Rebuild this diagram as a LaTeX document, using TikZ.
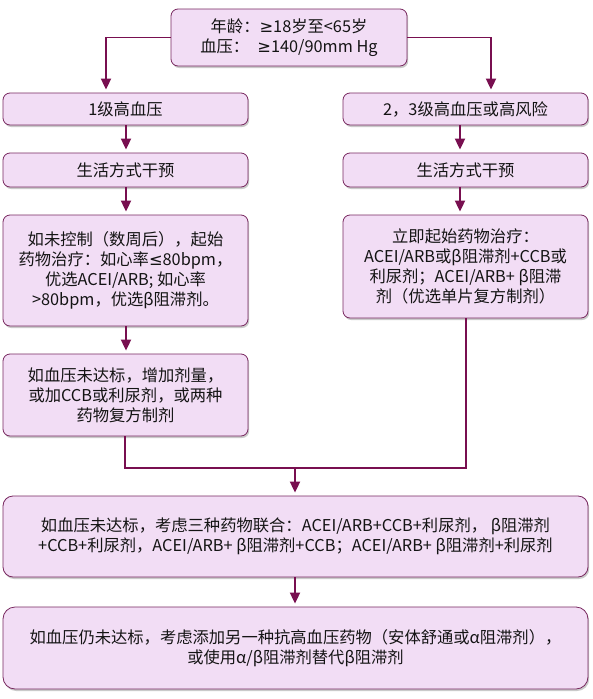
\documentclass[tikz,border=0pt]{standalone}
\usepackage{fontspec}
\setmainfont{Noto Sans CJK SC}
\newfontfamily\symf{DejaVu Sans}
\newcommand{\myge}{{\symf ≥}}
\newcommand{\myle}{{\symf ≤}}
\usetikzlibrary{arrows.meta,shadows}
\definecolor{boxfill}{RGB}{242,221,245}
\definecolor{boxline}{RGB}{120,40,95}
\definecolor{conn}{RGB}{120,15,80}
\definecolor{txt}{RGB}{20,20,20}
\tikzset{
  flowbox/.style={draw=boxline, line width=0.8pt, fill=boxfill, rounded corners=7pt,
    align=center, inner sep=2pt, text=txt, font=\fontsize{16.3}{20}\selectfont,
    drop shadow={shadow xshift=1.2pt, shadow yshift=-2pt, opacity=0.35, fill=black!60}},
  conline/.style={draw=conn, line width=1.8pt},
  conarrow/.style={conline, -{Triangle[length=11pt,width=10pt]}, shorten >=3pt}
}
\begin{document}
\begin{tikzpicture}[x=1pt,y=-1pt]
\useasboundingbox (0,0) rectangle (592,699);
\node[flowbox, minimum width=236pt, minimum height=57pt] (top) at (289,37.5)
  {年龄：\myge18岁至<65岁\\血压：\enspace\myge140/90mm Hg};
\node[flowbox, minimum width=245pt, minimum height=32pt] (l1) at (125.5,109) {1级高血压};
\node[flowbox, minimum width=245pt, minimum height=34pt] (l2) at (125.5,170) {生活方式干预};
\node[flowbox, minimum width=245pt, minimum height=111pt] (l3) at (125.5,270.5)
  {如未控制（数周后），起始\\药物治疗：如心率\myle80bpm，\\优选ACEI/ARB; 如心率\\>80bpm，优选β阻滞剂。};
\node[flowbox, minimum width=245pt, minimum height=82pt] (l4) at (125.5,395)
  {如血压未达标，增加剂量，\\或加CCB或利尿剂，或两种\\药物复方制剂};
\node[flowbox, minimum width=245pt, minimum height=32pt] (r1) at (465.5,109) {2，3级高血压或高风险};
\node[flowbox, minimum width=245pt, minimum height=34pt] (r2) at (465.5,170) {生活方式干预};
\node[flowbox, minimum width=245pt, minimum height=103pt] (r3) at (465.5,266.5)
  {立即起始药物治疗：\\ACEI/ARB或β阻滞剂+CCB或\\利尿剂；ACEI/ARB+ β阻滞\\剂（优选单片复方制剂）};
\node[flowbox, minimum width=585pt, minimum height=81pt, rounded corners=10pt] (b5) at (295.5,536.5)
  {如血压未达标，考虑三种药物联合：ACEI/ARB+CCB+利尿剂， β阻滞剂\\+CCB+利尿剂，ACEI/ARB+ β阻滞剂+CCB；ACEI/ARB+ β阻滞剂+利尿剂};
\node[flowbox, minimum width=585pt, minimum height=82pt, rounded corners=12pt] (b6) at (295.5,648)
  {如血压仍未达标，考虑添加另一种抗高血压药物（安体舒通或α阻滞剂），\\或使用α/β阻滞剂替代β阻滞剂};
\coordinate (j) at (295,468);
\draw[conarrow] (top.west) -| (106,0 |- l1.north);
\draw[conarrow] (top.east) -| (491,0 |- r1.north);
\draw[conarrow] (126,0 |- l1.south) -- (126,0 |- l2.north);
\draw[conarrow] (126,0 |- l2.south) -- (126,0 |- l3.north);
\draw[conarrow] (126,0 |- l3.south) -- (126,0 |- l4.north);
\draw[conarrow] (460,0 |- r1.south) -- (460,0 |- r2.north);
\draw[conarrow] (460,0 |- r2.south) -- (460,0 |- r3.north);
\draw[conline] (125,0 |- l4.south) |- (j) -| (466,0 |- r3.south);
\draw[conarrow] (j) -- (j |- b5.north);
\draw[conarrow] (295,0 |- b5.south) -- (295,0 |- b6.north);
\end{tikzpicture}
\end{document}
